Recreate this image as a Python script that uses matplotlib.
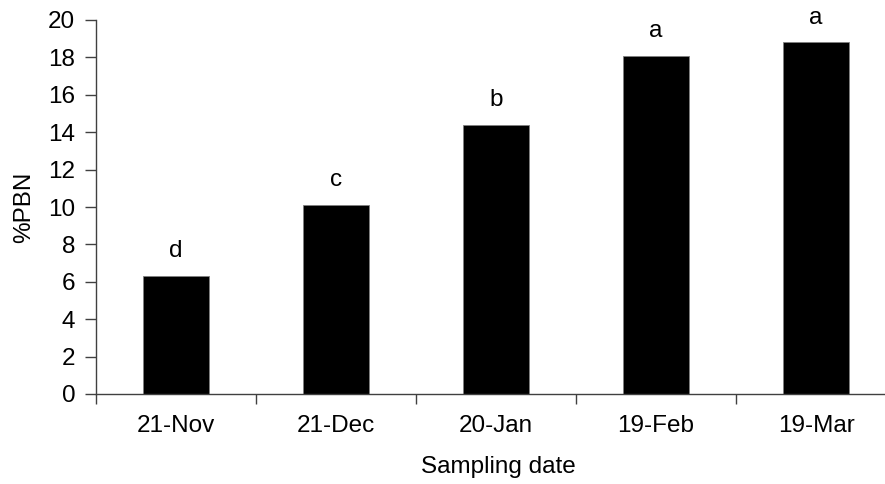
import numpy as np
import matplotlib.pyplot as plt

plt.rcParams['font.family'] = ['Liberation Sans', 'DejaVu Sans']

# datas de amostragem e %PBN
datas = ['21-Nov', '21-Dec', '20-Jan', '19-Feb', '19-Mar']
pbn = [6.3, 10.1, 14.4, 18.1, 18.8]
letras = ['d', 'c', 'b', 'a', 'a']

fs = 17.5
fig = plt.figure(figsize=(8.85, 4.84), dpi=100)
ax = fig.add_axes([96/885, 90/484, 800/885, 374/484])

x = np.arange(len(datas))
ax.bar(x, pbn, width=0.41, color='black', edgecolor='#808080', linewidth=0.6)

for xi, v, l in zip(x, pbn, letras):
    ax.annotate(l, (xi, v), xytext=(0, 10), textcoords='offset points',
                ha='center', va='bottom', fontsize=fs)

ax.set_xlim(-0.5, len(datas) - 0.5)
ax.set_ylim(0, 20)
ax.set_yticks(np.arange(0, 21, 2))
ax.set_xticks(x)
ax.set_xticklabels(datas)
ax.set_xticks(np.arange(-0.5, len(datas), 1), minor=True)

for s in ['top', 'right']:
    ax.spines[s].set_visible(False)
for s in ['left', 'bottom']:
    ax.spines[s].set_color('#404040')
    ax.spines[s].set_linewidth(1)

ax.tick_params(axis='y', direction='out', length=8, width=1, color='#404040',
               labelsize=fs, pad=7)
ax.tick_params(axis='x', which='major', length=0, labelsize=fs, pad=15)
ax.tick_params(axis='x', which='minor', direction='out', length=7, width=1,
               color='#404040')

ax.set_ylabel('%PBN', fontsize=fs)
ax.yaxis.set_label_coords(-61/800, 0.5)
ax.set_xlabel('Sampling date', fontsize=fs)
ax.xaxis.set_label_coords(0.5025, -62/374)

fig.savefig('out.png', dpi=100)
